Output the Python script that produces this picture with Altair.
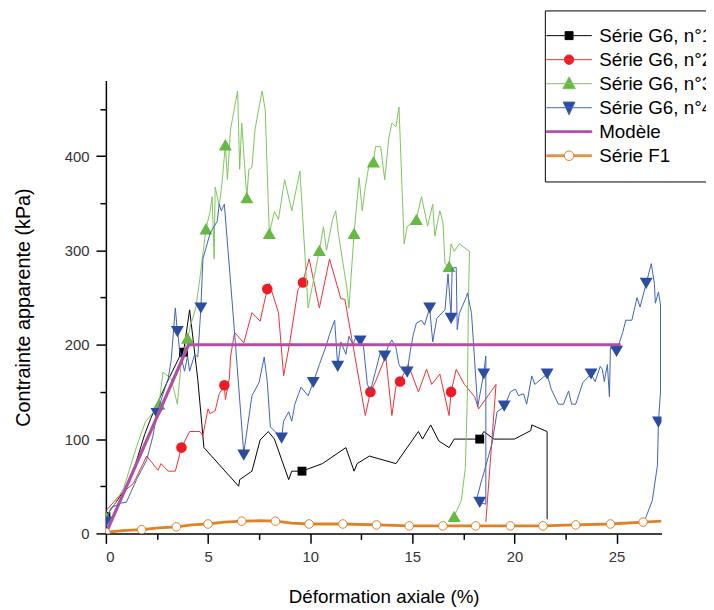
import altair as alt
import pandas as pd

# ---------------- data ----------------
NAMES = ["Série G6, n°1", "Série G6, n°2", "Série G6, n°3", "Série G6, n°4", "Modèle", "Série F1"]

G1_X = [0, 0.4, 0.9, 1.4, 1.9, 2.2, 2.5, 3.1, 3.6, 3.8, 4.1, 4.5, 4.8, 6.5, 6.55, 7.15, 7.55, 7.95, 8.25,
        8.95, 9.1, 9.6, 10.6, 11.75, 12.15, 12.3, 12.9, 14.2, 15.3, 15.5, 15.9, 16.3, 16.8, 17.05, 18.3,
        18.5, 19.0, 20.0, 20.8, 20.85, 21.6, 21.6]
G1_Y = [18, 30, 46, 70, 105, 122, 137, 165, 187, 192, 237, 163, 91, 50, 57, 66, 99, 108, 100,
        57, 66, 66, 74, 91, 66, 74, 82, 74, 108, 100, 115, 98, 91, 100, 100,
        108, 100, 100, 109, 115, 108, 15]
G1_MX = [0, 3.8, 9.6, 18.3]
G1_MY = [18, 192, 66, 100]

G2_X = [0, 0.7, 1.35, 2.0, 2.55, 2.7, 3.05, 3.4, 3.7, 4.1, 4.6, 4.75, 5.0, 5.1, 5.35, 5.55, 5.8, 5.85, 6.05,
        6.1, 6.3, 6.75, 7.15, 7.55, 7.9, 8.0, 8.45, 8.7, 9.0, 9.4, 9.65, 9.95, 10.45, 10.95, 11.5, 11.7,
        12.7, 12.95, 13.2, 13.7, 14.0, 14.2, 14.4, 14.8, 15.3, 15.7, 15.95, 16.35, 16.8, 16.9, 17.15,
        17.55, 18.05, 18.25, 19.1, 18.6]
G2_Y = [24, 41, 53, 82, 67, 74, 66, 66, 91, 108, 108, 104, 132, 127, 130, 148, 157, 142, 165,
        187, 213, 202, 234, 225, 259, 265, 234, 167, 202, 258, 267, 291, 239, 291, 249, 248,
        125, 150, 161, 188, 125, 156, 161, 179, 150, 174, 158, 169, 125, 150, 174,
        158, 145, 132, 158, 12]
G2_MX = [3.7, 5.8, 7.9, 9.65, 12.95, 14.4, 16.9]
G2_MY = [91, 157, 259, 266, 150, 161, 150]

G3_X = [0, 0.4, 0.87, 1.5, 1.93, 2.3, 2.6, 2.8, 3.2, 3.5, 3.7, 4.0, 4.15, 4.4, 4.6, 4.9, 5.1, 5.2, 5.3,
        5.35, 5.55, 5.7, 5.85, 5.95, 6.1, 6.3, 6.45, 6.55, 6.65, 6.9, 7.0, 7.15, 7.3, 7.5, 7.65, 7.8,
        8.0, 8.25, 8.45, 8.75, 9.1, 9.5, 9.9, 10.45, 10.65, 10.8, 11.1, 11.25, 11.4, 11.8, 11.9, 12.15,
        12.4, 12.55, 12.7, 12.9, 13.1, 13.2, 13.45, 13.65, 13.85, 14.0, 14.2, 14.35, 14.6, 14.75, 15.0,
        15.2, 15.45, 15.75, 16.0, 16.1, 16.35, 16.5, 16.6, 16.8, 16.9, 17.05, 17.3, 17.8, 17.75, 17.7,
        17.6, 17.4, 17.05]
G3_Y = [18, 30, 48, 92, 118, 128, 137, 171, 164, 137, 184, 207, 221, 239, 270, 323, 341, 357, 291,
        367, 347, 375, 412, 375, 428, 452, 469, 386, 435, 356, 386, 388, 428, 452, 469, 449,
        318, 341, 333, 375, 342, 384, 239, 300, 325, 300, 333, 342, 315, 260, 239, 318,
        377, 342, 367, 393, 394, 410, 410, 375, 419, 435, 431, 452, 307, 325, 330,
        333, 357, 326, 349, 315, 342, 330, 286, 283, 307, 299, 307, 299, 250, 150,
        70, 35, 18]
G3_MX = [0, 2.6, 4.0, 4.9, 5.85, 6.9, 8.0, 10.45, 12.15, 13.1, 15.2, 16.8, 17.05]
G3_MY = [18, 137, 207, 323, 412, 356, 318, 300, 318, 394, 333, 283, 18]

G4_X = [0, 0.25, 0.7, 1.0, 1.5, 2.0, 2.3, 2.5, 2.8, 3.05, 3.2, 3.4, 3.5, 3.55, 3.6, 3.85, 4.0, 4.1, 4.35,
        4.5, 4.65, 4.75, 5.1, 5.45, 5.55, 5.65, 5.8, 6.3, 6.75, 7.15, 7.5, 7.75, 7.9, 8.05, 8.6, 8.7,
        8.95, 9.1, 9.25, 9.55, 9.9, 10.15, 10.45, 10.8, 10.95, 11.2, 11.35, 11.5, 11.75, 11.9, 12.1,
        12.25, 12.45, 12.6, 12.8, 12.95, 13.2, 13.45, 13.65, 13.85, 14.0, 14.2, 14.35, 14.55, 14.75,
        14.9, 15.05, 15.2, 15.45, 15.6, 15.85, 16.0, 16.2, 16.6, 16.75, 16.9, 16.95, 17.15, 17.2, 17.3,
        17.65, 17.7, 17.9, 18.2, 18.5, 18.6, 18.6, 18.3, 18.15, 18.4, 18.5, 18.9, 19.15, 19.5, 19.8,
        20.05, 20.2, 20.45, 20.6, 20.85, 21.0, 21.6, 21.8, 22.15, 22.4, 22.65, 22.8, 23.0, 23.35,
        23.75, 23.95, 24.2, 24.3, 24.4, 24.55, 24.65, 24.7, 25.0, 25.3, 25.45, 25.75, 26.0, 26.15,
        26.45, 26.7, 26.85, 26.9, 27.05, 27.15, 27.15, 27.05, 27.0, 26.75, 26.4]
G4_Y = [12, 27, 32, 33, 57, 78, 103, 127, 148, 164, 184, 239, 214, 207, 195, 172, 188, 172, 190,
        187, 239, 291, 318, 331, 349, 342, 349, 213, 85, 146, 160, 187, 161, 113, 101, 119,
        129, 119, 137, 155, 146, 160, 179, 200, 211, 226, 177, 203, 190, 209, 200,
        209, 204, 200, 158, 151, 172, 193, 188, 200, 205, 197, 179, 172, 171,
        193, 211, 223, 226, 221, 239, 203, 228, 237, 275, 230, 281, 282, 216, 233,
        251, 255, 233, 134, 170, 188, 31, 33, 36, 57, 64, 95, 129, 134, 150,
        153, 146, 148, 137, 167, 158, 169, 153, 137, 137, 151, 137, 137, 160,
        169, 161, 177, 174, 161, 179, 145, 197, 193, 213, 226, 226, 250, 240,
        265, 286, 265, 244, 256, 242, 150, 118, 72, 35, 15]
G4_MX = [0, 2.5, 3.5, 4.65, 6.75, 8.6, 10.15, 11.35, 12.45, 13.65, 14.75, 15.85, 16.9, 18.5, 18.3,
         19.5, 21.6, 23.75, 25.0, 26.45, 27.05]
G4_MY = [12, 127, 214, 239, 83, 101, 160, 177, 204, 188, 171, 239, 228, 169, 33,
         135, 169, 169, 193, 265, 118]

MODEL_X = [0, 4.05, 25.2]
MODEL_Y = [0, 200, 200]

F1_X = [0, 0.8, 1.75, 2.6, 3.45, 4.2, 5.0, 5.8, 6.65, 7.5, 8.3, 9.1, 9.95, 11.6, 13.25, 14.85, 16.5,
        18.1, 19.8, 21.4, 23.0, 24.7, 26.3, 27.2]
F1_Y = [1, 3, 4, 6, 7, 9, 10, 12, 13, 13.5, 13, 11, 10, 10, 9, 8, 8, 8, 8, 8, 9, 10, 12, 13]
F1_MX = [0, 1.75, 3.45, 5.0, 6.65, 8.3, 9.95, 11.6, 13.25, 14.85, 16.5, 18.1, 19.8, 21.4, 23.0, 24.7, 26.3]
F1_MY = [1, 4, 7, 10, 13, 13, 10, 10, 9, 8, 8, 8, 8, 8, 9, 10, 12]

X_TICKS = [0, 2.5, 5, 7.5, 10, 12.5, 15, 17.5, 20, 22.5, 25]
Y_TICKS = [0, 50, 100, 150, 200, 250, 300, 350, 400, 450]

# ---------------- styling ----------------
C_BLACK = "#000000"
C_RED_L, C_RED_M = "#ee3035", "#ec1c24"
C_GREEN_L, C_GREEN_M = "#7cc45a", "#66b942"
C_BLUE_L, C_BLUE_M = "#3f62b5", "#2b4c9f"
C_MAG = "#b04fa6"
C_ORANGE = "#df8124"

FONT = "Liberation Sans"

xaxis = alt.Axis(values=X_TICKS, title="Déformation axiale (%)",
                 labelExpr="datum.value % 5 === 0 ? format(datum.value, 'd') : ''",
                 tickSize={"condition": {"test": "datum.value % 5 !== 0", "value": 6}, "value": 10},
                 labelPadding=6, titlePadding=24, titleFontSize=19, grid=False)
yaxis = alt.Axis(values=Y_TICKS, title="Contrainte apparente (kPa)",
                 labelExpr="datum.value % 100 === 0 ? format(datum.value, 'd') : ''",
                 tickSize={"condition": {"test": "datum.value % 100 !== 0", "value": 6}, "value": 10},
                 labelPadding=7, titlePadding=31, titleFontSize=20, grid=False)

X = alt.X("x:Q", scale=alt.Scale(domain=[0, 27.2], nice=False, zero=False), axis=xaxis)
Y = alt.Y("y:Q", scale=alt.Scale(domain=[0, 480], nice=False, zero=False), axis=yaxis)


def df_of(xs, ys):
    return pd.DataFrame({"x": xs, "y": ys, "i": list(range(len(xs)))})


def line(xs, ys, color, width=1.0):
    return alt.Chart(df_of(xs, ys)).mark_line(color=color, strokeWidth=width, clip=True).encode(
        x=X, y=Y, order=alt.Order("i:Q"))


def marks(xs, ys, shape, size, fill, stroke=None, sw=0):
    return alt.Chart(df_of(xs, ys)).mark_point(
        shape=shape, size=size, filled=True, fill=fill, stroke=stroke or fill,
        strokeWidth=sw, opacity=1, clip=True).encode(x=X, y=Y)


L = 3.83
PATHS = [
    f"M-{L},0H{L}M-0.67,-0.67H0.67V0.67H-0.67Z",
    f"M-{L},0H{L}M0.8,0A0.8,0.8,0,1,1,-0.8,0A0.8,0.8,0,1,1,0.8,0Z",
    f"M-{L},0H{L}M0,-1.15L1.05,0.85L-1.05,0.85Z",
    f"M-{L},0H{L}M-1.0,-0.95L1.0,-0.95L0,1.2Z",
    f"M-{L},-0.15H{L}V0.15H-{L}Z",
    f"M-{L},-0.15H-0.8M-{L},0H-0.8M-{L},0.15H-0.8M0.8,-0.15H{L}M0.8,0H{L}M0.8,0.15H{L}"
    "M0.8,0A0.8,0.8,0,1,1,-0.8,0A0.8,0.8,0,1,1,0.8,0Z",
]
FILLS = [C_BLACK, C_RED_M, C_GREEN_M, C_BLUE_M, C_MAG, "#ffffff"]
STROKES = [C_BLACK, C_RED_L, C_GREEN_L, C_BLUE_L, C_MAG, C_ORANGE]

leg = alt.Legend(orient="none", legendX=444, legendY=-71, title=None, padding=16, rowPadding=4.3,
                 labelFont=FONT, labelFontSize=19, labelColor="#000000", labelLimit=0,
                 symbolSize=144, symbolStrokeWidth=1, symbolOffset=-1, labelOffset=21,
                 strokeColor="#000000", fillColor="#ffffff")

legend_layer = alt.Chart(pd.DataFrame({"s": NAMES, "x": [0] * 6, "y": [0] * 6})).mark_point(
    filled=True, opacity=1, strokeWidth=1).encode(
    x=X, y=Y,
    shape=alt.Shape("s:N", scale=alt.Scale(domain=NAMES, range=PATHS), legend=leg),
    fill=alt.Fill("s:N", scale=alt.Scale(domain=NAMES, range=FILLS), legend=leg),
    stroke=alt.Stroke("s:N", scale=alt.Scale(domain=NAMES, range=STROKES), legend=leg),
).transform_filter("false")

layers = [
    line(G1_X, G1_Y, C_BLACK, 1.0),
    marks(G1_MX, G1_MY, "square", 81, C_BLACK),
    line(G2_X, G2_Y, C_RED_L, 1.0),
    marks(G2_MX, G2_MY, "circle", 115, C_RED_M),
    line(G3_X, G3_Y, C_GREEN_L, 1.0),
    marks(G3_MX, G3_MY, "triangle-up", 175, C_GREEN_M),
    line(G4_X, G4_Y, C_BLUE_L, 1.0),
    marks(G4_MX, G4_MY, "triangle-down", 170, C_BLUE_M),
    line(MODEL_X, MODEL_Y, C_MAG, 3.2),
    line(F1_X, F1_Y, C_ORANGE, 2.8),
    marks(F1_MX, F1_MY, "circle", 75, "#ffffff", C_ORANGE, 1),
    legend_layer,
]

chart = alt.layer(*layers).properties(
    width=562, height=458,
    autosize=alt.AutoSizeParams(type="none"),
    padding={"left": 99, "top": 70, "right": 45, "bottom": 74},
).configure_view(stroke=None).configure_axis(
    domainColor="#000000", domainWidth=1.5, tickColor="#000000", tickWidth=1.5,
    labelFont=FONT, labelFontSize=15, labelColor="#333333",
    titleFont=FONT, titleFontWeight="normal", titleColor="#000000",
)

chart.save("out.html", embed_options={"renderer": "svg", "actions": False})
